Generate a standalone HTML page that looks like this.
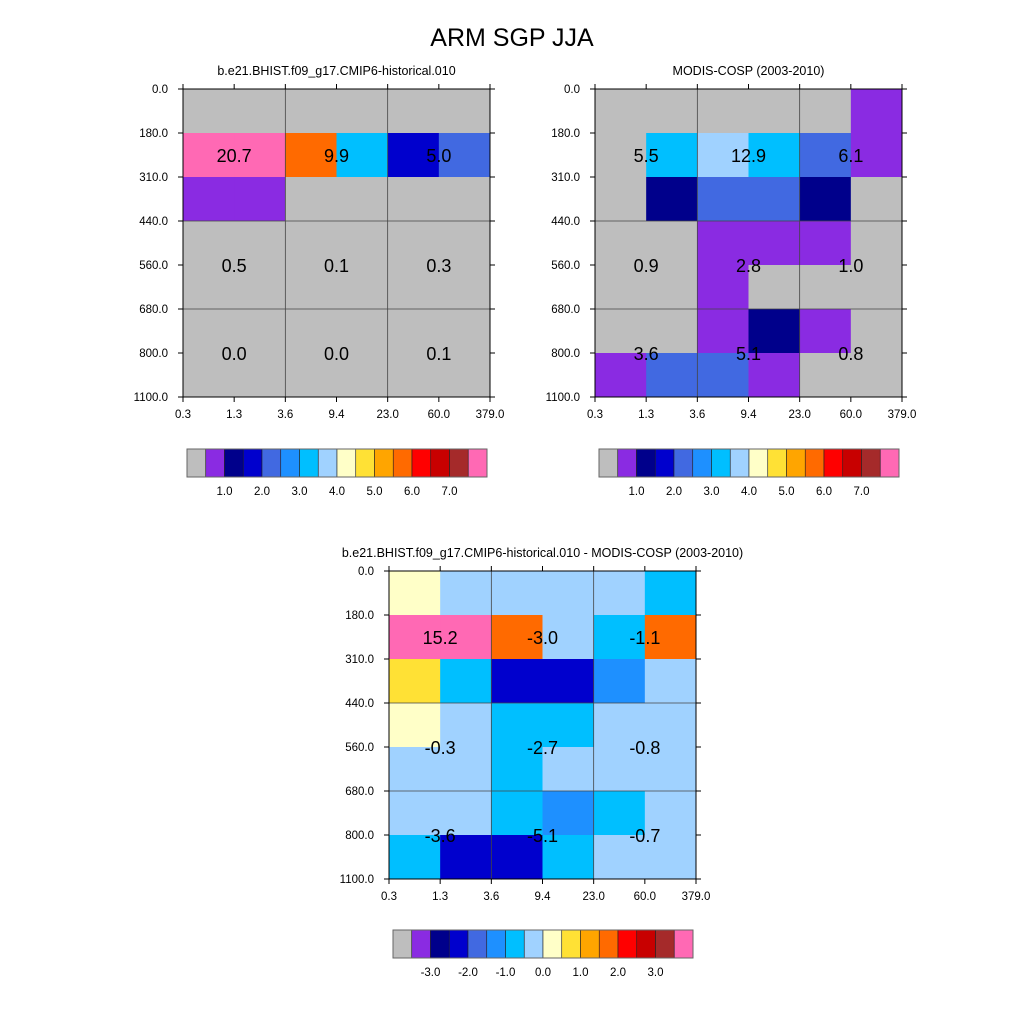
<!DOCTYPE html>
<html><head><meta charset="utf-8"><style>
body{margin:0;background:#fff;}
svg{display:block;font-family:"Liberation Sans",sans-serif;}
</style></head><body>
<svg id="s" width="1024" height="1024" viewBox="0 0 1024 1024">
<rect width="1024" height="1024" fill="#fff"/>
<text x="512" y="46" font-size="25" text-anchor="middle">ARM SGP JJA</text>
</svg>
<script>
const palette=["#bebebe","#8a2be2","#00008b","#0000cd","#4169e1","#1e90ff","#00bfff","#a0d2ff","#ffffc8","#ffe135","#ffa500","#ff6a00","#ff0000","#c80000","#a52a2a","#ff69b4"];
const xTicks=["0.3","1.3","3.6","9.4","23.0","60.0","379.0"];
const yTicks=["0.0","180.0","310.0","440.0","560.0","680.0","800.0","1100.0"];
const cellsModel=[[0,0,0,0,0,0],[15,15,11,6,3,4],[1,1,0,0,0,0],[0,0,0,0,0,0],[0,0,0,0,0,0],[0,0,0,0,0,0],[0,0,0,0,0,0]];
const cellsObs=[[0,0,0,0,0,1],[0,6,7,6,4,1],[0,2,4,4,2,0],[0,0,1,1,1,0],[0,0,1,0,0,0],[0,0,1,2,1,0],[1,4,4,1,0,0]];
const cellsDiff=[[8,7,7,7,7,6],[15,15,11,7,6,11],[9,6,3,3,5,7],[8,7,6,6,7,7],[7,7,6,7,7,7],[7,7,6,5,6,7],[6,3,3,6,7,7]];
const valsModel=["20.7","9.9","5.0","0.5","0.1","0.3","0.0","0.0","0.1"];
const valsObs=["5.5","12.9","6.1","0.9","2.8","1.0","3.6","5.1","0.8"];
const valsDiff=["15.2","-3.0","-1.1","-0.3","-2.7","-0.8","-3.6","-5.1","-0.7"];
const cbLabelsTop=["1.0","2.0","3.0","4.0","5.0","6.0","7.0"];
const cbLabelsDiff=["-3.0","-2.0","-1.0","0.0","1.0","2.0","3.0"];
const valRowPosY=[1.5,4,6];
const valColPos=[1,3,5];
const NS="http://www.w3.org/2000/svg";
const svg=document.getElementById('s');
function el(t,a,p){const e=document.createElementNS(NS,t);for(const k in a)e.setAttribute(k,a[k]);(p||svg).appendChild(e);return e;}
function panel(name,x0,y0,title,cells,vals){
  const g=el('g',{});
  
  
  const W=307,H=308,cw=W/6,rh=H/7;
  const sx=i=>x0+i*cw, sy=j=>y0+j*rh;
  const t=el('text',{x:x0+W/2,y:y0-14,'font-size':12.5,'text-anchor':'middle'},g);t.textContent=title;
  
  
  cells.forEach((row,j)=>row.forEach((c,i)=>{
    const r=el('rect',{x:sx(i),y:sy(j),width:cw+0.5,height:rh+0.5,fill:palette[c]},g);
    
    
  }));
  [2,4].forEach(i=>el('line',{x1:sx(i),x2:sx(i),y1:y0,y2:y0+H,stroke:'#444','stroke-width':0.8},g));
  [3,5].forEach(j=>el('line',{x1:x0,x2:x0+W,y1:sy(j),y2:sy(j),stroke:'#444','stroke-width':0.8},g));
  el('rect',{x:x0,y:y0,width:W,height:H,fill:'none',stroke:'#000','stroke-width':1},g);
  xTicks.forEach((l,i)=>{
    el('line',{x1:sx(i),x2:sx(i),y1:y0+H,y2:y0+H+5,stroke:'#000'},g);
    el('line',{x1:sx(i),x2:sx(i),y1:y0,y2:y0-5,stroke:'#000'},g);
    const tx=el('text',{x:sx(i),y:y0+H+21,'font-size':11.5,'text-anchor':'middle'},g);tx.textContent=l;
    
    
  });
  yTicks.forEach((l,j)=>{
    el('line',{x1:x0,x2:x0-5,y1:sy(j),y2:sy(j),stroke:'#000'},g);
    el('line',{x1:x0+W,x2:x0+W+5,y1:sy(j),y2:sy(j),stroke:'#000'},g);
    const ty=el('text',{x:x0-15,y:sy(j)+4,'font-size':11.5,'text-anchor':'end'},g);ty.textContent=l;
    
    
  });
  vals.forEach((v,k)=>{
    const r=Math.floor(k/3),c=k%3;
    const tv=el('text',{x:sx(valColPos[c]),y:sy(valRowPosY[r])+7,'font-size':18,'text-anchor':'middle'},g);tv.textContent=v;
    
    
  });
}
function colorbar(name,x0,y0,labels){
  const g=el('g',{});
  
  
  const bw=300/palette.length;
  palette.forEach((c,i)=>{
    const r=el('rect',{x:x0+i*bw,y:y0,width:bw,height:28,fill:c,stroke:'#222','stroke-width':0.6},g);
    
    
  });
  el('rect',{x:x0,y:y0,width:300,height:28,fill:'none',stroke:'#666','stroke-width':1},g);
  labels.forEach((l,i)=>{
    const t=el('text',{x:x0+(2+2*i)*bw,y:y0+46,'font-size':11.5,'text-anchor':'middle'},g);t.textContent=l;
    
    
  });
}
panel('model-panel',183,89,'b.e21.BHIST.f09_g17.CMIP6-historical.010',cellsModel,valsModel);
panel('obs-panel',595,89,'MODIS-COSP (2003-2010)',cellsObs,valsObs);
panel('diff-panel',389,571,'b.e21.BHIST.f09_g17.CMIP6-historical.010 - MODIS-COSP (2003-2010)',cellsDiff,valsDiff);
colorbar('model-colorbar',187,449,cbLabelsTop);
colorbar('obs-colorbar',599,449,cbLabelsTop);
colorbar('diff-colorbar',393,930,cbLabelsDiff);
</script>
</body></html>
